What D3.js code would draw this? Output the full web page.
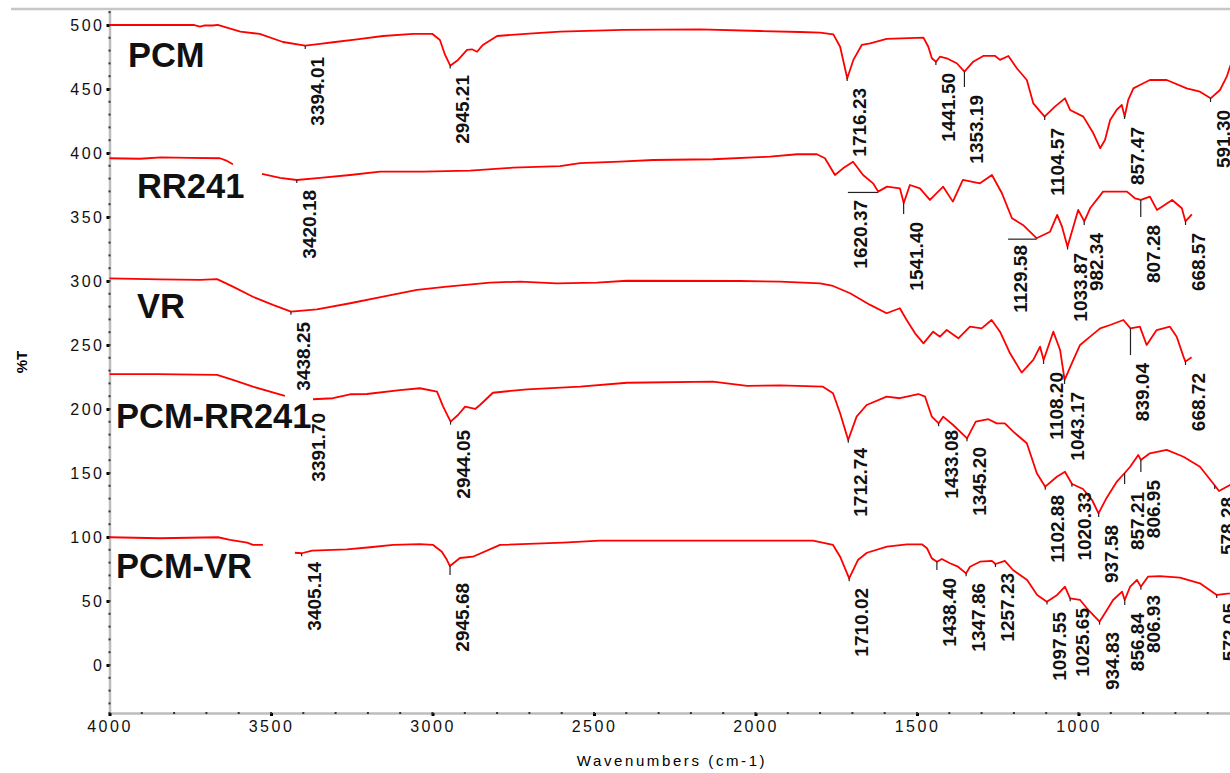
<!DOCTYPE html>
<html>
<head>
<meta charset="utf-8">
<script src="https://cdn.jsdelivr.net/npm/d3@7"></script>
<style>
    body { margin: 0; background: #fff; }
    svg { display: block; font-family: Arial, "Liberation Sans", sans-serif; }
</style>
</head>
<body>
<div data-chart></div>
<script>
// spectra, [wavenumber, %T as plotted (offset included)], null = gap in the trace
const pcm = [[4000,500],[3740,500],[3720,498.8],[3705,499.6],[3680,499.6],[3665,500],[3595,494.8],[3535,493],[3463,486.7],[3394,483.8],[3348,485.2],[3308,486.5],[3234,488.8],[3153,491.4],[3060,493],[3000,493],[2977,488.3],[2961,476.6],[2945,468.2],[2921,472.7],[2893,480.5],[2878,481],[2862,479.1],[2844,484.4],[2800,491.4],[2689,493.5],[2605,494.8],[2410,496.1],[2172,496.5],[1986,495.3],[1862,494.5],[1800,494.1],[1759,492.7],[1738,483],[1716,458.4],[1697,472.7],[1671,484.4],[1645,485.7],[1594,489.1],[1480,490.1],[1465,483],[1454,474],[1441,471.3],[1429,475.2],[1408,474],[1377,470.1],[1353,463.5],[1326,471.3],[1295,475.8],[1258,475.8],[1243,472.7],[1217,475.8],[1191,466.2],[1160,457],[1140,438.8],[1105,428.4],[1073,436.2],[1042,442.7],[1026,433.6],[985,428.4],[954,415.4],[933,403.7],[918,410.2],[902,425.8],[882,433.6],[866,437.5],[857,428.4],[846,441.4],[830,450.5],[810,453.1],[779,457],[727,457],[665,450.5],[624,447.9],[591,442.7],[562,449.2],[541,459.6],[531,467.4],[515,478]]

const rr241 = [[4000,395.9],[3906,395.5],[3840,396.5],[3751,396.1],[3658,395.9],[3636,393.8],[3618,391.2],null,[3528,383.6],[3472,380.5],[3420,378.9],[3348,380.5],[3255,382.8],[3162,385.4],[3029,385.4],[2884,386.2],[2751,388.5],[2605,389.8],[2543,392],[2420,393.2],[2317,394.5],[2132,395.1],[1955,397.1],[1871,399],[1810,399],[1785,395.9],[1754,382.8],[1729,388],[1698,393.2],[1667,382.8],[1636,376.3],[1620,369.8],[1593,373.7],[1553,372.4],[1541,360.9],[1522,375],[1491,372.4],[1460,363.3],[1419,373.7],[1389,362],[1358,378.9],[1305,376.3],[1268,382.8],[1237,368.5],[1206,349],[1172,343.8],[1130,333.4],[1088,338.5],[1066,351.6],[1051,342.4],[1034,326.8],[1001,355.5],[982,346.6],[964,356.8],[924,369.8],[850,369.8],[825,364.6],[807,363.3],[779,365.9],[757,355.5],[710,363.3],[680,356.8],[669,346.6],[649,352.1]]

const vr = [[4000,302.1],[3844,301.3],[3720,300.8],[3667,301.5],[3618,295.6],[3556,287.7],[3494,281.3],[3438,276],[3358,277.9],[3255,282.6],[3153,287.7],[3048,293],[2955,295.6],[2822,298.7],[2729,299.5],[2615,298.2],[2491,298.7],[2398,300.2],[2048,300],[1924,299.5],[1800,298.2],[1760,296.1],[1707,290.4],[1645,281.3],[1594,274.8],[1553,278.7],[1532,269.5],[1506,259.1],[1480,251.3],[1450,260.4],[1429,256.5],[1408,261.7],[1372,255.2],[1336,264.3],[1300,263],[1269,269.5],[1243,260.4],[1212,243.5],[1176,228.4],[1140,238.3],[1119,248.7],[1108,238.3],[1078,260.4],[1057,246.1],[1043,222.7],[1016,238.3],[995,250],[964,256.5],[933,263],[902,265.6],[861,269.5],[839,263],[810,264.3],[789,250],[758,261.7],[717,264.3],[696,256.5],[675,240.9],[669,237],[650,240.4]]

const pcmRr241 = [[4000,227.3],[3853,227.3],[3667,226.6],[3618,222.7],[3556,217.4],[3457,210.2],null,[3370,207.6],[3308,208.4],[3255,211.5],[3203,211.7],[3101,214.8],[3039,216.2],[2986,213.5],[2967,201.8],[2944,190.1],[2921,195.3],[2899,201.8],[2868,200],[2853,203.1],[2813,212.7],[2707,215.4],[2543,217.4],[2398,220.5],[2132,221.3],[2026,218],[1924,218.5],[1791,217.4],[1760,212.3],[1738,196.7],[1713,175.8],[1687,194],[1656,203.1],[1594,209.6],[1553,208.4],[1496,211.7],[1475,209.6],[1454,194],[1433,188.8],[1419,194],[1388,187.5],[1345,177.1],[1318,190.1],[1279,192],[1253,188.8],[1228,188.8],[1202,182.3],[1160,173.2],[1129,149.8],[1103,139.3],[1067,147.1],[1042,151],[1020,141.4],[986,137.5],[958,128.9],[938,118.5],[913,130.5],[882,143],[857,150],[840,154.9],[815,164],[807,160.2],[779,165.4],[727,168],[675,162.7],[624,154.9],[584,142.2],[565,135.9],[531,140.6],[510,145]]

const pcmVr = [[4000,99.8],[3844,99],[3664,99.8],[3627,97.7],[3574,95.6],[3556,93.8],[3525,93.8],null,[3426,87.7],[3405,87.3],[3373,89.3],[3265,90.4],[3193,92],[3122,93.8],[3039,94.5],[2998,93.8],[2971,88.5],[2955,82],[2946,77.3],[2915,83.6],[2875,84.6],[2791,93.8],[2596,95.6],[2481,97.1],[1822,97.1],[1760,93.8],[1738,84.6],[1710,67.7],[1683,82],[1655,87.7],[1593,92.4],[1531,94.3],[1485,94.3],[1469,91.2],[1454,83.3],[1438,80.7],[1423,82.8],[1398,79.5],[1373,76.8],[1348,71.6],[1336,76.8],[1305,80.7],[1268,81.3],[1257,78.9],[1228,81.3],[1203,74.2],[1159,66.4],[1128,54.7],[1098,49.5],[1066,54.7],[1042,61.2],[1026,52.1],[995,50.8],[974,44.3],[935,33.8],[912,43],[893,50.8],[865,57.3],[857,50.8],[840,61.2],[819,66.4],[807,61.2],[785,69],[748,69.5],[686,68.2],[624,63.8],[572,54.7],[531,56],[510,57]]

// peak picks: [label, wavenumber, %T of label top, optional wavenumber where the label sits]
const peaksPcm = [['3394.01',3394.01,475],['2945.21',2945.21,460.9],['1716.23',1716.23,450.8],['1441.50',1441.50,462.5],['1353.19',1353.19,445.3],['1104.57',1104.57,419.5],['857.47',857.47,420.3],['591.30',591.30,433.6]]
const peaksRr241 = [['3420.18',3420.18,371.1],['1620.37',1620.37,363.3,1714],['1541.40',1541.40,346.1],['1129.58',1129.58,328.1,1218],['1033.87',1033.87,321.9],['982.34',982.34,337.5],['807.28',807.28,343.8],['668.57',668.57,337.5]]
const peaksVr = [['3438.25',3438.25,268],['1108.20',1108.20,228.9],['1043.17',1043.17,213.3],['839.04',839.04,235.9],['668.72',668.72,228.1]]
const peaksPcmRr241 = [['3391.70',3391.70,196.9],['2944.05',2944.05,183.6],['1712.74',1712.74,169.5],['1433.08',1433.08,183.6],['1345.20',1345.20,170.3],['1102.88',1102.88,132.8],['1020.33',1020.33,135.2],['937.58',937.58,109.4],['857.21',857.21,135.2],['806.95',806.95,144.5],['578.28',578.28,131.3]]
const peaksPcmVr = [['3405.14',3405.14,80.5],['2945.68',2945.68,64.1],['1710.02',1710.02,60.2],['1438.40',1438.40,68],['1347.86',1347.86,64.1],['1257.23',1257.23,71.9],['1097.55',1097.55,41.4],['1025.65',1025.65,44.5],['934.83',934.83,25.8],['856.84',856.84,40.6],['806.93',806.93,54.7],['572.05',572.05,48.4]]

const seriesNames = ['PCM', 'RR241', 'VR', 'PCM-RR241', 'PCM-VR']
const seriesLabelW = [3943, 3915, 3915, 3980, 3980]
const seriesLabelT = [467.2, 364.8, 271, 185.2, 68]

const xTicks = [4000, 3500, 3000, 2500, 2000, 1500, 1000]
const yTicks = [0, 50, 100, 150, 200, 250, 300, 350, 400, 450, 500]

const spectra = [pcm, rr241, vr, pcmRr241, pcmVr]
const peaks = [peaksPcm, peaksRr241, peaksVr, peaksPcmRr241, peaksPcmVr]

const width = 1230, height = 773

const svg = d3.select('[data-chart]').append('svg')
    .attr('width', width)
    .attr('height', height)

const x = d3.scaleLinear().domain([4000, 400]).range([109.5, 1272.3])
const y = d3.scaleLinear().domain([-37.5, 511.7]).range([713, 10])

// grey frame line across the top
svg.append('line')
    .attr('x1', 11).attr('x2', width)
    .attr('y1', 9).attr('y2', 9)
    .attr('stroke', '#c6c6c6')
    .attr('stroke-width', 2.5)

// axes
let yAxis = svg.append('g')
    .attr('transform', 'translate(109.5,0)')
    .call(d3.axisLeft(y).tickValues(yTicks).tickFormat(d3.format('d'))
        .tickSize(3).tickSizeOuter(0).tickPadding(2))
let xAxis = svg.append('g')
    .attr('transform', 'translate(0,713)')
    .call(d3.axisBottom(x).tickValues(xTicks).tickFormat(d3.format('d'))
        .tickSize(3).tickSizeOuter(0).tickPadding(5))

;[yAxis, xAxis].forEach(function (g) {
    g.select('.domain').attr('stroke', '#bdbdbd').attr('stroke-width', 2.5)
    g.selectAll('.tick line').attr('stroke', '#000').attr('stroke-width', 3)
    g.selectAll('.tick text')
        .attr('fill', '#111')
        .style('font-size', '16px')
        .style('letter-spacing', '2.5px')
        .style('font-family', 'Arial, "Liberation Sans", sans-serif')
})

// small dotted minor ticks
svg.append('g').selectAll('rect')
    .data(d3.range(-30, 511, 10))
    .enter().append('rect')
    .attr('x', 108.5).attr('y', function (d) { return y(d) - 1 })
    .attr('width', 2).attr('height', 2)
    .attr('fill', '#333')
svg.append('g').selectAll('rect')
    .data(d3.range(4000, 500, -100))
    .enter().append('rect')
    .attr('x', function (d) { return x(d) - 1 }).attr('y', 712)
    .attr('width', 2).attr('height', 2)
    .attr('fill', '#333')

svg.append('text')
    .attr('transform', 'translate(27,362)rotate(-90)')
    .attr('text-anchor', 'middle')
    .style('font-size', '15px')
    .style('font-weight', 'bold')
    .text('%T')

svg.append('text')
    .attr('x', 672).attr('y', 766)
    .attr('text-anchor', 'middle')
    .style('font-size', '15px')
    .style('letter-spacing', '2.6px')
    .text('Wavenumbers (cm-1)')

// spectra
let line = d3.line()
    .defined(function (d) { return d })
    .x(function (d) { return x(d[0]) })
    .y(function (d) { return y(d[1]) })

svg.append('g').selectAll('path')
    .data(spectra)
    .enter().append('path')
    .attr('d', line)
    .attr('fill', 'none')
    .attr('stroke', '#ff0000')
    .attr('stroke-width', 1.8)
    .attr('stroke-linejoin', 'round')

function valueAt(series, w) {
    for (let i = 0; i < series.length - 1; i++) {
        let a = series[i], b = series[i + 1]
        if (!a || !b) continue
        if (a[0] >= w && w >= b[0]) {
            let t = (a[0] - w) / (a[0] - b[0])
            return a[1] + t * (b[1] - a[1])
        }
    }
    return null
}

// peak marks and labels
let peakG = svg.append('g')
peaks.forEach(function (list, i) {
    list.forEach(function (p) {
        let v = valueAt(spectra[i], p[1])
        let px = x(p[1])
        let top = y(p[2])
        if (v !== null) {
            let py = y(v)
            if (p[3]) {
                peakG.append('line')
                    .attr('x1', x(p[3])).attr('x2', px)
                    .attr('y1', py + 1).attr('y2', py + 1)
                    .attr('stroke', '#222').attr('stroke-width', 1.2)
            } else {
                peakG.append('line')
                    .attr('x1', px).attr('x2', px)
                    .attr('y1', py).attr('y2', Math.max(py + 3, top - 8))
                    .attr('stroke', '#222').attr('stroke-width', 1.2)
            }
        }
        let lx = x(p[3] || p[1])
        peakG.append('text')
            .attr('transform', 'translate(' + (lx + 19) + ',' + top + ')rotate(-90)')
            .attr('text-anchor', 'end')
            .attr('fill', '#111')
            .style('font-size', '19px')
            .style('font-weight', 'bold')
            .text(p[0])
    })
})

// sample names
svg.append('g').selectAll('text')
    .data(seriesNames)
    .enter().append('text')
    .attr('x', function (d, i) { return x(seriesLabelW[i]) })
    .attr('y', function (d, i) { return y(seriesLabelT[i]) })
    .attr('fill', '#111')
    .style('font-size', '34.5px')
    .style('font-weight', 'bold')
    .text(function (d) { return d })
</script>
</body>
</html>
